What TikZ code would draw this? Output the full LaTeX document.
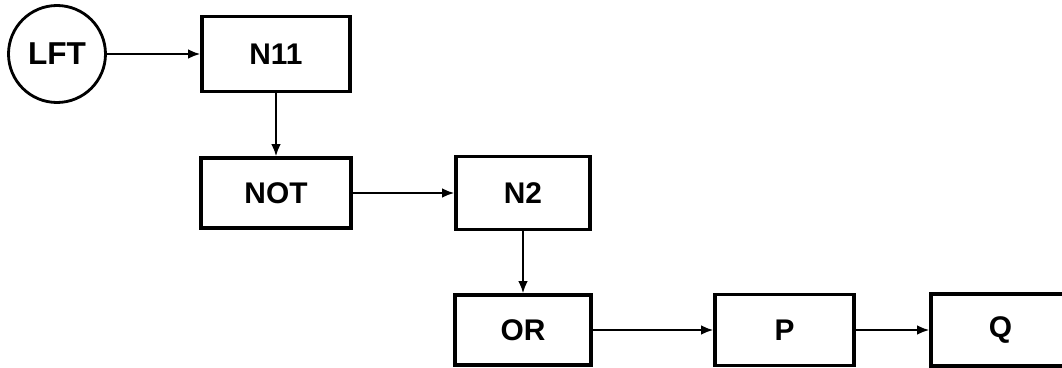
\documentclass[tikz,border=0pt]{standalone}
\usepackage{fontspec}
\setmainfont{Liberation Sans}
\usetikzlibrary{arrows.meta}
\begin{document}
\begin{tikzpicture}[
    node distance=4cm,
    block/.style={rectangle, draw, line width=1.8pt, minimum width=2.8cm, minimum height=1.42cm, font=\fontsize{17}{20}\selectfont\bfseries},
    term/.style={circle, draw, line width=1.6pt, minimum size=1.94cm, inner sep=0pt, font=\fontsize{18}{21}\selectfont\bfseries},
    arrow/.style={line width=1.3pt,->,>={Latex[length=7pt,width=5.5pt]}}
]
    \useasboundingbox (0,0) rectangle (21.24,-7.36);

    % Top row
    \node [term] at (1.14,-1.08) (lft) {LFT};
    \node [block, right of=lft, xshift=0.38cm, minimum width=2.96cm, minimum height=1.5cm] (n11) {N11};

    % Middle row
    \node [block, below of=n11, yshift=1.22cm, minimum width=3cm, minimum height=1.4cm] (not) {NOT};
    \node [block, right of=not, xshift=0.94cm, minimum width=2.68cm, minimum height=1.46cm] (n2) {N2};

    % Bottom row
    \node [block, below of=n2, yshift=1.26cm, minimum width=2.72cm, minimum height=1.4cm] (or) {OR};
    \node [block, right of=or, xshift=1.23cm, minimum width=2.78cm] (p) {P};
    \node [block, right of=p, xshift=0.32cm, minimum width=2.78cm, minimum height=1.44cm] (q) {Q};

    % Arrows
    \draw [arrow] (lft) -- (n11);
    \draw [arrow] (n11) -- (not);
    \draw [arrow] (not) -- (n2);
    \draw [arrow] (n2) -- (or);
    \draw [arrow] (or) -- (p);
    \draw [arrow] (p) -- (q);
\end{tikzpicture}
\end{document}
